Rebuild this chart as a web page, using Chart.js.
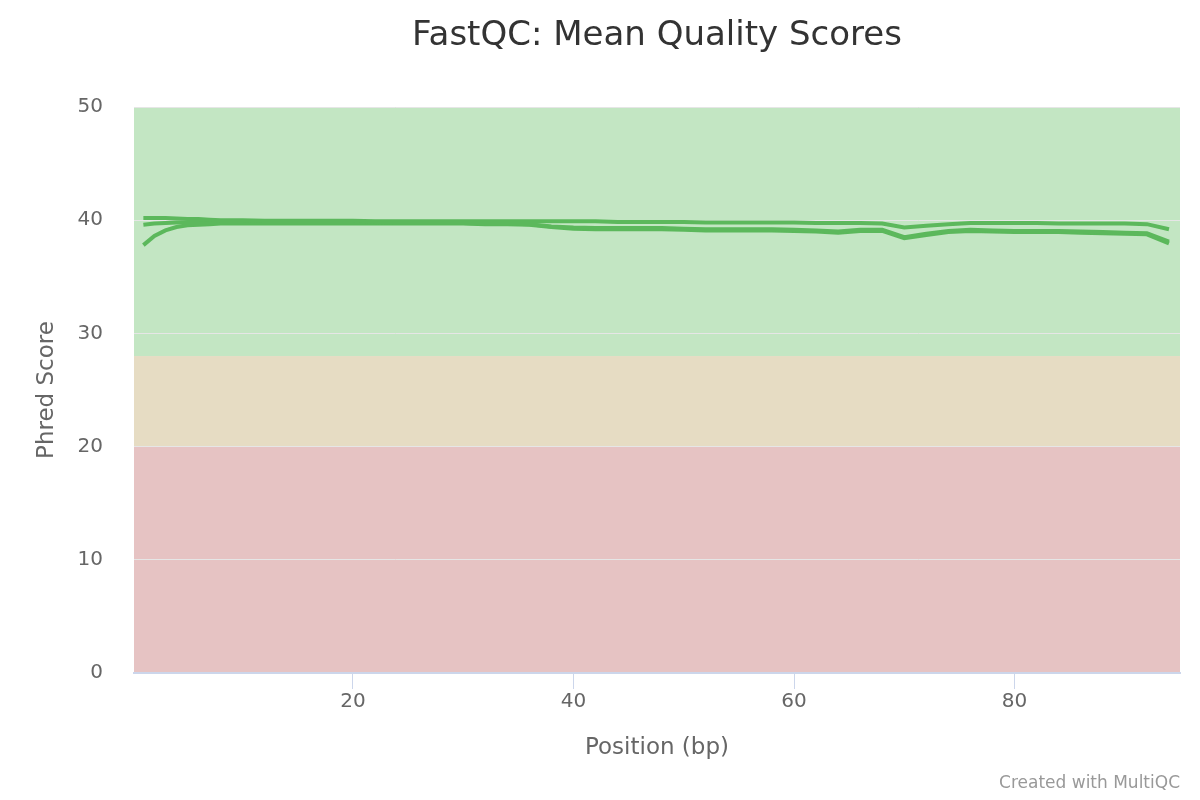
<!DOCTYPE html>
<html>
<head>
<meta charset="utf-8">
<title>FastQC: Mean Quality Scores</title>
<script src="https://cdn.jsdelivr.net/npm/chart.js@4.4.0/dist/chart.umd.min.js"></script>
<style>
  html, body { margin: 0; padding: 0; background: #fff; }
  #wrap { width: 1200px; height: 800px; }
</style>
</head>
<body>
<div id="wrap"><canvas id="qualityChart" width="1200" height="800"></canvas></div>
<script>
// 数据: 碱基位置 (bp)
const positions = [1, 2, 3, 4, 5, 6, 7, 8, 9,
    10, 12, 14, 16, 18, 20, 22, 24, 26, 28, 30, 32, 34, 36, 38, 40, 42, 44, 46, 48, 50,
    52, 54, 56, 58, 60, 62, 64, 66, 68, 70, 72, 74, 76, 78, 80, 82, 84, 86, 88, 90, 92, 94];

// 三个样本的平均质量分数
const sampleA = [40.2, 40.2, 40.2, 40.15, 40.1, 40.1, 40.05, 40.0, 40.0,
    40.0, 39.95, 39.95, 39.95, 39.95, 39.95, 39.9, 39.9, 39.9, 39.9, 39.9, 39.9, 39.9, 39.9, 39.9, 39.9, 39.9, 39.85, 39.85, 39.85, 39.85,
    39.8, 39.8, 39.8, 39.8, 39.8, 39.75, 39.75, 39.75, 39.7, 39.35, 39.5, 39.65, 39.75, 39.75, 39.75, 39.75, 39.7, 39.7, 39.7, 39.7, 39.65, 39.2];

const sampleB = [39.6, 39.7, 39.75, 39.8, 39.8, 39.8, 39.8, 39.8, 39.8,
    39.8, 39.8, 39.8, 39.8, 39.8, 39.8, 39.8, 39.75, 39.75, 39.75, 39.75, 39.7, 39.7, 39.65, 39.45, 39.35, 39.3, 39.3, 39.3, 39.3, 39.25,
    39.2, 39.2, 39.2, 39.2, 39.15, 39.1, 39.0, 39.15, 39.15, 38.5, 38.8, 39.05, 39.15, 39.1, 39.05, 39.05, 39.05, 39.0, 38.95, 38.9, 38.85, 38.1];

const sampleC = [37.8, 38.6, 39.1, 39.4, 39.55, 39.6, 39.65, 39.7, 39.7,
    39.7, 39.7, 39.7, 39.7, 39.7, 39.7, 39.7, 39.7, 39.7, 39.7, 39.7, 39.65, 39.65, 39.6, 39.4, 39.25, 39.2, 39.2, 39.2, 39.2, 39.15,
    39.1, 39.1, 39.1, 39.1, 39.05, 39.0, 38.9, 39.05, 39.05, 38.4, 38.7, 38.95, 39.05, 39.0, 38.95, 38.95, 38.95, 38.9, 38.85, 38.8, 38.75, 37.95];

const sampleNames = ['Sample A', 'Sample B', 'Sample C'];

// 坐标轴刻度
const xTicks = [20, 40, 60, 80];
const yTicks = [0, 10, 20, 30, 40, 50];

// 背景色带 (失败 / 警告 / 通过)
const bandLimits = [[0, 20], [20, 28], [28, 50]];
const bandColors = ['#e6c3c3', '#e6dcc3', '#c3e6c3'];

const lineColor = '#5cb85c';
const fontFamily = '"DejaVu Sans", "Lucida Grande", Arial, sans-serif';

// 色带插件
const bandsPlugin = {
    id: 'qualityBands',
    beforeDraw(chart) {
        const { ctx, chartArea, scales } = chart;
        ctx.save();
        bandLimits.forEach((b, i) => {
            const top = scales.y.getPixelForValue(b[1]);
            const bottom = scales.y.getPixelForValue(b[0]);
            ctx.fillStyle = bandColors[i];
            ctx.fillRect(chartArea.left, top, chartArea.right - chartArea.left, bottom - top);
        });
        ctx.restore();
    }
};

function toPoints(values) {
    return positions.map((p, i) => ({ x: p, y: values[i] }));
}

const ctx = document.getElementById('qualityChart').getContext('2d');
new Chart(ctx, {
    type: 'line',
    data: {
        datasets: [sampleA, sampleB, sampleC].map((vals, i) => ({
            label: sampleNames[i],
            data: toPoints(vals),
            borderColor: lineColor,
            backgroundColor: lineColor,
            borderWidth: 4,
            pointRadius: 0,
            tension: 0,
            fill: false
        }))
    },
    options: {
        responsive: false,
        animation: false,
        layout: { padding: { left: 0, right: 20, top: 0, bottom: 0 } },
        plugins: {
            legend: { display: false },
            tooltip: { enabled: false },
            title: {
                display: true,
                fullSize: false,
                text: 'FastQC: Mean Quality Scores',
                color: '#333333',
                font: { family: fontFamily, size: 34, weight: 'normal' },
                padding: { top: 16, bottom: 50.2 }
            },
            subtitle: {
                display: true,
                text: 'Created with MultiQC',
                position: 'bottom',
                align: 'end',
                color: '#999999',
                font: { family: fontFamily, size: 17, weight: 'normal' },
                padding: { top: 0, bottom: 6 }
            }
        },
        scales: {
            x: {
                type: 'linear',
                min: 0.15,
                max: 95,
                afterBuildTicks: scale => { scale.ticks = xTicks.map(v => ({ value: v })); },
                afterFit: scale => { scale.height = 100.6; },
                border: { display: true, color: '#ccd6eb', width: 2 },
                grid: { drawOnChartArea: false, drawTicks: true, tickLength: 16, tickColor: '#ccd6eb' },
                ticks: { color: '#666666', padding: 1, font: { family: fontFamily, size: 20 } },
                title: {
                    display: true,
                    text: 'Position (bp)',
                    color: '#666666',
                    font: { family: fontFamily, size: 23 },
                    padding: { top: 0, bottom: 11.8 }
                }
            },
            y: {
                min: 0,
                max: 50,
                afterBuildTicks: scale => { scale.ticks = yTicks.map(v => ({ value: v })); },
                afterFit: scale => { scale.width = 134; },
                border: { display: false },
                grid: { color: '#e6e6e6', lineWidth: 1, drawTicks: false },
                ticks: { color: '#666666', padding: 31, font: { family: fontFamily, size: 20 } },
                title: {
                    display: true,
                    text: 'Phred Score',
                    color: '#666666',
                    font: { family: fontFamily, size: 23 },
                    padding: { top: 33, bottom: 0 }
                }
            }
        }
    },
    plugins: [bandsPlugin]
});
</script>
</body>
</html>
